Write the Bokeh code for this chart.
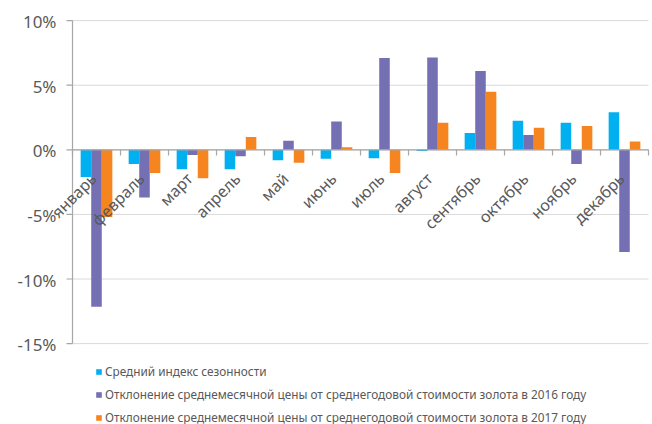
from bokeh.plotting import figure
from bokeh.models import Range1d, Legend, LegendItem, ColumnDataSource, Label
from bokeh.embed import file_html
from bokeh.resources import INLINE
import math

months = ["январь", "февраль", "март", "апрель", "май", "июнь", "июль",
          "август", "сентябрь", "октябрь", "ноябрь", "декабрь"]
seasonal = [-2.1, -1.1, -1.5, -1.5, -0.8, -0.7, -0.65, -0.1, 1.3, 2.25, 2.1, 2.9]
dev2016 = [-12.15, -3.7, -0.4, -0.5, 0.7, 2.2, 7.1, 7.15, 6.1, 1.15, -1.1, -7.9]
dev2017 = [-5.2, -1.8, -2.2, 1.0, -1.0, 0.2, -1.8, 2.1, 4.5, 1.7, 1.85, 0.65]
series_names = ["Средний индекс сезонности",
                "Отклонение среднемесячной цены от среднегодовой стоимости золота в 2016 году",
                "Отклонение среднемесячной цены от среднегодовой стоимости золота в 2017 году"]
y_ticks = [-15, -10, -5, 0, 5, 10]
y_tick_labels = ["-15%", "-10%", "-5%", "0%", "5%", "10%"]

colors = ["#00B0F0", "#7470B3", "#F6851F"]
FONT = "Noto Sans"
GRAY = "#A6A6A6"
TEXT = "#595959"

n = len(months)
# The frame covers the whole page so that rotated month labels and legend are not clipped.
# 48 px per month slot, 12.92 px per percent point.
p = figure(width=652, height=424, output_backend="svg", toolbar_location=None,
           x_range=Range1d(-1.5, n + 4 / 48), y_range=Range1d(-21.26, 11.556),
           x_axis_location=None, y_axis_location=None,
           min_border_left=0, min_border_right=0, min_border_top=0, min_border_bottom=0)
p.outline_line_color = None
p.grid.visible = False

# horizontal gridlines
p.segment(x0=[0] * len(y_ticks), x1=[n] * len(y_ticks), y0=y_ticks, y1=y_ticks,
          line_color="#D9D9D9", line_width=1)
# value axis line and ticks
p.segment(x0=[0], x1=[0], y0=[y_ticks[0]], y1=[y_ticks[-1]], line_color=GRAY, line_width=1.2)
p.segment(x0=[-0.125] * len(y_ticks), x1=[0] * len(y_ticks), y0=y_ticks, y1=y_ticks,
          line_color=GRAY, line_width=1.2)
for t, lab in zip(y_ticks, y_tick_labels):
    p.add_layout(Label(x=0, y=t, text=lab, text_align="right", text_baseline="middle",
                       x_offset=-16, y_offset=-1,
                       text_font=FONT, text_font_size="17px", text_color=TEXT))

idx = list(range(n))
w = 0.22
renderers = []
for k, vals in enumerate([seasonal, dev2016, dev2017]):
    xs = [i + 0.5 + (k - 1) * w for i in idx]
    src = ColumnDataSource(dict(x=xs, top=vals))
    r = p.vbar(x="x", top="top", bottom=0, width=w, source=src,
               fill_color=colors[k], line_color=None)
    renderers.append(r)

# category axis at zero
p.segment(x0=[0], x1=[n], y0=[0], y1=[0], line_color=GRAY, line_width=1.2)
bounds = list(range(n + 1))
p.segment(x0=bounds, x1=bounds, y0=[0] * len(bounds), y1=[-0.45] * len(bounds),
          line_color=GRAY, line_width=1.2)

for i, m in zip(idx, months):
    p.add_layout(Label(x=i + 0.5, y=0, text=m, angle=math.pi / 4,
                       text_align="right", text_baseline="middle",
                       x_offset=-3, y_offset=-26,
                       text_font=FONT, text_font_size="16px", text_color=TEXT))

legend = Legend(items=[LegendItem(label=series_names[k], renderers=[renderers[k]]) for k in range(3)],
                location=(95, -1), orientation="vertical",
                label_text_font=FONT, label_text_font_size="11.8px", label_text_color=TEXT,
                glyph_width=7, glyph_height=7, label_height=12, label_standoff=3,
                spacing=7, padding=0, margin=0,
                border_line_color=None, background_fill_alpha=0)
p.add_layout(legend, "center")

open("out.html", "w").write(file_html(p, INLINE))
